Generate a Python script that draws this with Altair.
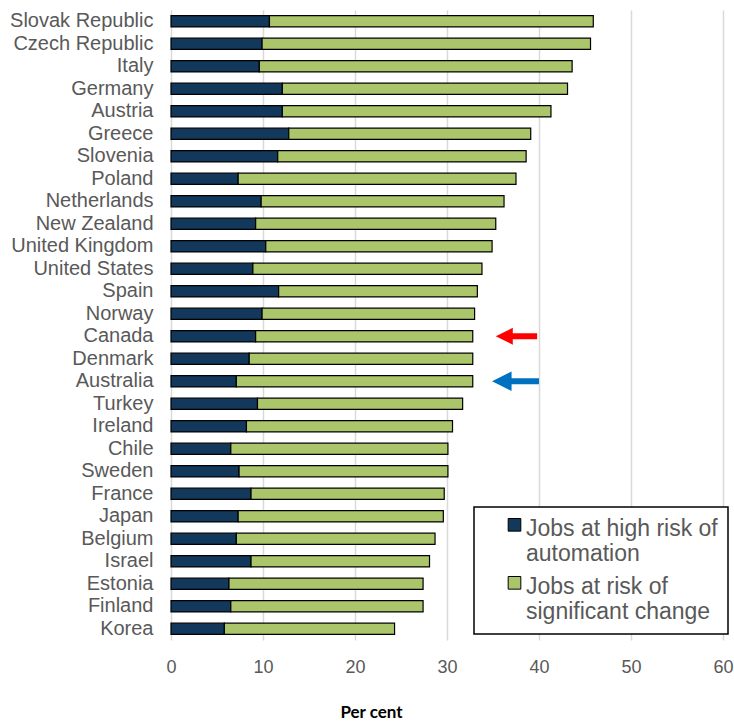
import altair as alt
import pandas as pd

# Share of jobs by country (per cent)
countries = [
    "Slovak Republic", "Czech Republic", "Italy", "Germany", "Austria", "Greece",
    "Slovenia", "Poland", "Netherlands", "New Zealand", "United Kingdom",
    "United States", "Spain", "Norway", "Canada", "Denmark", "Australia",
    "Turkey", "Ireland", "Chile", "Sweden", "France", "Japan", "Belgium",
    "Israel", "Estonia", "Finland", "Korea",
]
high_risk = [10.7, 9.9, 9.6, 12.1, 12.1, 12.8, 11.6, 7.3, 9.8, 9.2, 10.3, 8.9,
             11.7, 9.9, 9.2, 8.5, 7.1, 9.4, 8.2, 6.5, 7.4, 8.7, 7.3, 7.1, 8.7,
             6.3, 6.5, 5.8]
significant_change = [35.2, 35.7, 34.0, 31.0, 29.2, 26.3, 27.0, 30.2, 26.4, 26.1,
                      24.6, 24.9, 21.6, 23.1, 23.6, 24.3, 25.7, 22.3, 22.4, 23.6,
                      22.7, 21.0, 22.3, 21.6, 19.4, 21.1, 20.9, 18.5]

series = ["Jobs at high risk of automation", "Jobs at risk of significant change"]
series_colors = ["#12395B", "#ABC56B"]

# Highlight arrows (x in per cent units)
arrow_countries = ["Canada", "Australia"]
arrow_tip = [35.3, 34.9]
arrow_tail = [39.8, 40.0]
arrow_colors = ["#FF0000", "#0070C0"]
arrow_head = [290, 380]

rows = []
for c, h, s in zip(countries, high_risk, significant_change):
    rows.append({"country": c, "series": series[0], "value": h, "order": 0})
    rows.append({"country": c, "series": series[1], "value": s, "order": 1})
df = pd.DataFrame(rows)

arrows = pd.DataFrame({
    "country": arrow_countries,
    "tip": arrow_tip,
    "shaft_start": [t + 1.0 for t in arrow_tip],
    "tail": arrow_tail,
    "color": arrow_colors,
    "head": arrow_head,
})

grey = "#595959"
font = "Liberation Sans"

y_enc = alt.Y("country:N", sort=countries, title=None,
              scale=alt.Scale(paddingInner=0.5, paddingOuter=0.25),
              axis=alt.Axis(labelFont=font, labelFontSize=20, labelColor=grey,
                            labelPadding=18, ticks=False, domain=False, grid=False))

bars = alt.Chart(df).mark_bar(stroke="black", strokeWidth=1.2).encode(
    x=alt.X("value:Q", stack="zero", title="Per cent",
            scale=alt.Scale(domain=[0, 60], nice=False),
            axis=alt.Axis(values=[0, 10, 20, 30, 40, 50, 60], ticks=False, domain=False,
                          labelFont=font, labelFontSize=18, labelColor=grey,
                          labelPadding=18, labelFlush=False,
                          gridColor="#D9D9D9", gridWidth=1.5,
                          titleFont="Lato", titleFontWeight="bold", titleFontSize=17,
                          titleColor="black", titleX=200, titleY=77,
                          titleBaseline="alphabetic", titleAlign="center")),
    y=y_enc,
    order=alt.Order("order:Q"),
    color=alt.Color("series:N", scale=alt.Scale(domain=series, range=series_colors),
                    legend=alt.Legend(
                        title=None, orient="none", legendX=303, legendY=497,
                        direction="vertical",
                        labelFont=font, labelFontSize=23, labelColor=grey,
                        labelLimit=400, labelOffset=0,
                        labelExpr="datum.label == 'Jobs at high risk of automation' ? "
                                  "['Jobs at high risk of', 'automation'] : "
                                  "['Jobs at risk of', 'significant change']",
                        symbolType="M-1,-1.58L1,-1.58L1,0.42L-1,0.42Z",
                        symbolSize=160, symbolStrokeColor="black",
                        symbolStrokeWidth=1, symbolOffset=19,
                        padding=10, rowPadding=8,
                        strokeColor="black", fillColor="white")),
)

shafts = alt.Chart(arrows).mark_rule(strokeWidth=6, strokeCap="butt").encode(
    x="shaft_start:Q", x2="tail:Q",
    y=alt.Y("country:N", sort=countries),
    color=alt.Color("color:N", scale=None),
)

heads = alt.Chart(arrows).mark_point(shape="M0,0L2,-1L2,1Z", filled=True, opacity=1,
                                     strokeWidth=0).encode(
    x="tip:Q",
    y=alt.Y("country:N", sort=countries),
    color=alt.Color("color:N", scale=None),
    size=alt.Size("head:Q", scale=None),
)

chart = alt.layer(bars, shafts, heads).properties(
    width=552, height=630,
    autosize=alt.AutoSizeParams(type="none"),
    padding={"left": 171, "top": 10, "right": 11, "bottom": 82},
).configure_view(stroke=None).configure_legend(strokeWidth=1.5)

chart.save("out.html", embed_options={"renderer": "svg", "actions": False})
